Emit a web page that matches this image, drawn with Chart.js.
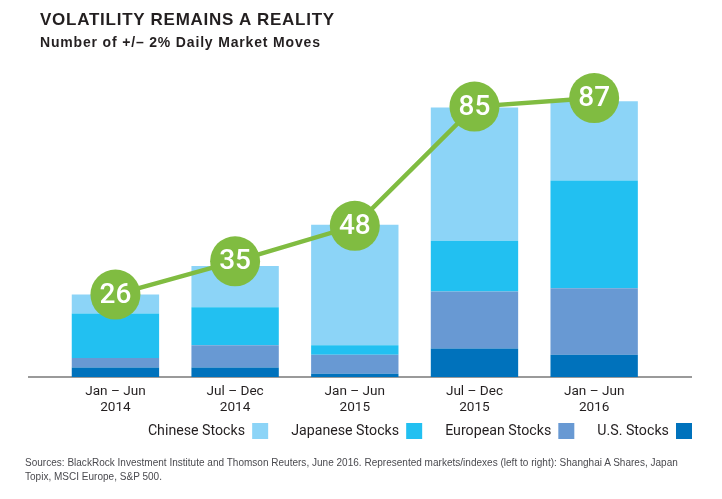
<!DOCTYPE html>
<html>
<head>
<meta charset="utf-8">
<script src="https://cdn.jsdelivr.net/npm/chart.js@4"></script>
<style>
html,body{margin:0;padding:0;background:#fff;width:722px;height:499px;overflow:hidden}
#wrap{position:relative;width:722px;height:499px}
canvas{position:absolute;left:0;top:0}
.t{position:absolute;font-family:"Liberation Sans",Arial,sans-serif;white-space:nowrap}
#title{left:40px;top:10px;font-size:17px;font-weight:700;color:#231f20;letter-spacing:.75px}
#sub{left:40px;top:34px;font-size:14px;font-weight:700;color:#231f20;letter-spacing:.83px}
#foot{left:25px;top:456px;font-size:10px;line-height:14px;letter-spacing:.015px;color:#4a4a4f;white-space:normal;width:690px}
</style>
</head>
<body>
<div id="wrap">
<canvas id="c" width="722" height="499"></canvas>
<div class="t" id="title">VOLATILITY REMAINS A REALITY</div>
<div class="t" id="sub">Number of +/– 2% Daily Market Moves</div>
<div class="t" id="foot">Sources: BlackRock Investment Institute and Thomson Reuters, June 2016. Represented markets/indexes (left to right): Shanghai A Shares, Japan<br>Topix, MSCI Europe, S&amp;P 500.</div>
</div>
<script>
const categories = [["Jan – Jun","2014"],["Jul – Dec","2014"],["Jan – Jun","2015"],["Jul – Dec","2015"],["Jan – Jun","2016"]];
const usStocks = [3,3,1,9,7];
const europeanStocks = [3,7,6,18,21];
const japaneseStocks = [14,12,3,16,34];
const chineseStocks = [6,13,38,42,25];
const totalPositions = [26,36.5,47.7,85.3,88];
const totalLabels = ["26","35","48","85","87"];

const GREEN = "#80bc41";

const extras = {
  id: "extras",
  afterLayout(chart) {
    chart.legend.left += 61;
    chart.legend.right += 61;
    chart.legend.top -= 13;
    chart.legend.bottom -= 13;
  },
  beforeDatasetsDraw(chart) {
    const ctx = chart.ctx, y = chart.scales.y.getPixelForValue(0);
    ctx.save();
    ctx.strokeStyle = "#9a9a9a";
    ctx.lineWidth = 2;
    ctx.beginPath();
    ctx.moveTo(28, y);
    ctx.lineTo(692, y);
    ctx.stroke();
    ctx.restore();
  },
  afterDatasetsDraw(chart) {
    const ctx = chart.ctx;
    const idx = chart.data.datasets.findIndex(d => d.type === "line");
    const meta = chart.getDatasetMeta(idx);
    ctx.save();
    ctx.fillStyle = "#fff";
    ctx.font = "500 28px Roboto, sans-serif";
    ctx.textAlign = "center";
    ctx.textBaseline = "middle";
    meta.data.forEach((p, i) => ctx.fillText(totalLabels[i], p.x, p.y + 1));
    ctx.restore();
  }
};

new Chart(document.getElementById("c"), {
  type: "bar",
  data: {
    labels: categories,
    datasets: [
      {type:"line", label:"Total", data: totalPositions, stack:"line", borderColor:GREEN, backgroundColor:GREEN, borderWidth:4.5, pointRadius:25, pointHoverRadius:25, pointBackgroundColor:GREEN, pointBorderWidth:0, tension:0, order:0},
      {label:"U.S. Stocks", data: usStocks, backgroundColor:"#0072bc", stack:"s", order:1},
      {label:"European Stocks", data: europeanStocks, backgroundColor:"#6899d3", stack:"s", order:1},
      {label:"Japanese Stocks", data: japaneseStocks, backgroundColor:"#22c0f1", stack:"s", order:1},
      {label:"Chinese Stocks", data: chineseStocks, backgroundColor:"#8cd4f7", stack:"s", order:1}
    ]
  },
  options: {
    responsive: false,
    animation: false,
    devicePixelRatio: 1,
    datasets: { bar: { barPercentage: 0.73, categoryPercentage: 1 } },
    layout: { padding: { left: 55.6, right: 68, top: 60, bottom: 37 } },
    scales: {
      x: {
        stacked: true,
        grid: { display: false, drawTicks: false },
        border: { display: false },
        afterFit: s => { s.height = 36; },
        ticks: { color:"#231f20", font:{family:"Roboto, sans-serif", size:13.6, lineHeight:1.18}, padding:7, maxRotation:0, autoSkip:false }
      },
      y: { stacked: true, min: 0, max: 100, display: false }
    },
    plugins: {
      title: { display:false },
      tooltip: { enabled:false },
      legend: {
        display: true,
        position: "bottom",
        align: "start",
        rtl: true,
        labels: {
          filter: item => item.text !== "Total",
          boxWidth: 16, boxHeight: 16, padding: 23,
          color:"#231f20",
          font:{family:"Roboto, sans-serif", size:14.2}
        }
      }
    }
  },
  plugins: [extras]
});
</script>
</body>
</html>
